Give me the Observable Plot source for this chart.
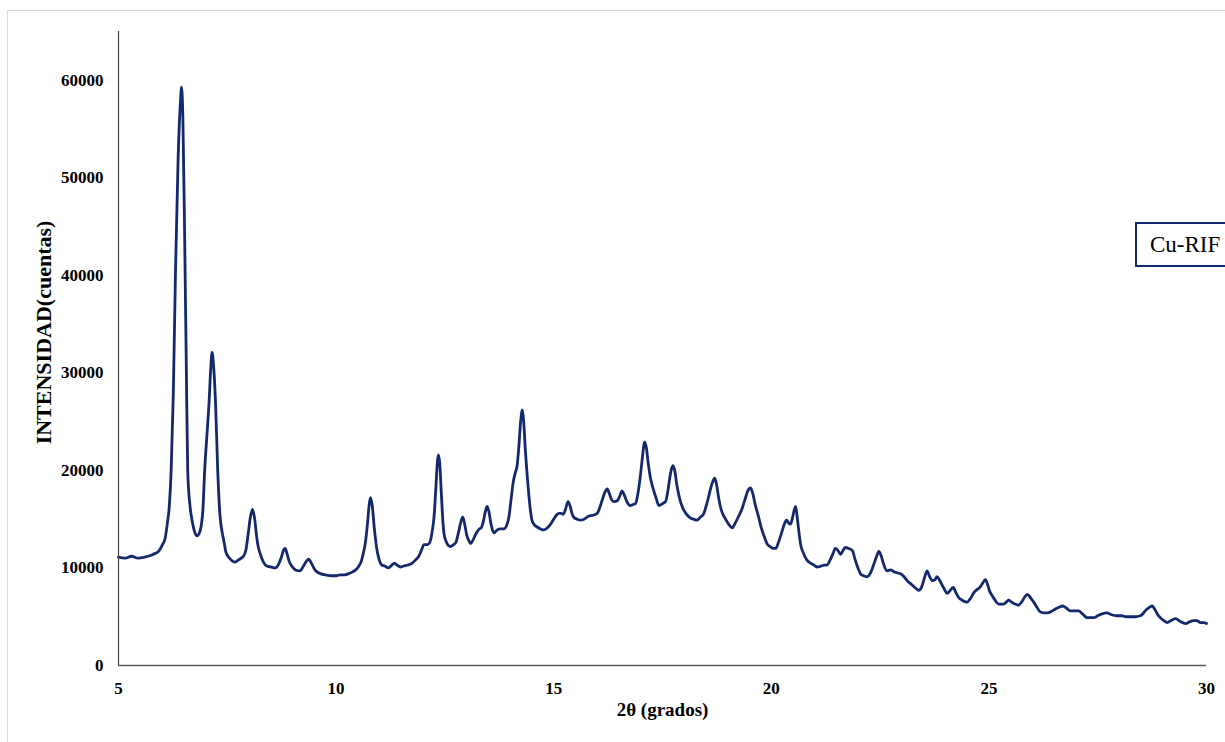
<!DOCTYPE html>
<html>
<head>
<meta charset="utf-8">
<script src="https://cdn.jsdelivr.net/npm/d3@7"></script>
<script src="https://cdn.jsdelivr.net/npm/@observablehq/plot@0.6"></script>
<style>
  html, body { margin: 0; padding: 0; background: #fff; overflow: hidden; }
  #wrap { position: relative; width: 1225px; height: 742px; overflow: hidden; }
  #frame { position: absolute; left: 7px; top: 10px; width: 1240px; height: 760px; border: 1px solid #d9d9d9; box-sizing: border-box; }
  #chart { position: absolute; left: 0; top: 0; }
  #legend { position: absolute; left: 1135px; top: 222px; width: 110px; height: 45px; border: 2px solid #12296b; box-sizing: border-box; background: #fff;
            font-family: "Liberation Serif", "Times New Roman", serif; font-size: 23px; color: #000; line-height: 41px; padding-left: 13px; }
</style>
</head>
<body>
<div id="wrap">
  <div id="frame"></div>
  <div id="chart"></div>
  <div id="legend">Cu-RIF</div>
</div>
<script>
// Diffraction pattern Cu-RIF: 2θ (degrees) and intensity (counts)
const twoTheta = [
  5.00,5.15,5.30,5.45,5.60,5.75,5.85,5.92,6.00,6.07,6.12,6.17,6.21,6.26,6.31,6.37,6.42,6.45,6.48,6.52,
  6.56,6.59,6.64,6.69,6.75,6.80,6.85,6.90,6.94,6.98,7.03,7.08,7.12,7.15,7.18,7.23,7.28,7.33,7.38,7.42,
  7.47,7.55,7.62,7.68,7.75,7.82,7.87,7.93,7.98,8.03,8.08,8.13,8.18,8.22,8.26,8.33,8.41,8.50,8.60,8.68,
  8.75,8.80,8.83,8.87,8.92,8.98,9.07,9.17,9.25,9.32,9.37,9.43,9.50,9.56,9.65,9.75,9.90,10.00,10.10,10.20,
  10.28,10.38,10.45,10.51,10.58,10.63,10.67,10.72,10.76,10.79,10.83,10.88,10.93,10.98,11.05,11.12,11.20,11.28,11.34,11.40,
  11.48,11.55,11.65,11.75,11.82,11.90,11.96,12.02,12.10,12.15,12.21,12.25,12.29,12.33,12.35,12.38,12.42,12.45,12.48,12.53,
  12.58,12.63,12.70,12.75,12.81,12.86,12.91,12.95,13.00,13.05,13.09,13.15,13.20,13.24,13.29,13.33,13.38,13.43,13.47,13.51,
  13.56,13.60,13.64,13.70,13.78,13.84,13.89,13.93,13.97,14.02,14.07,14.12,14.16,14.20,14.24,14.28,14.31,14.35,14.40,14.45,
  14.50,14.56,14.62,14.70,14.77,14.85,14.93,15.00,15.06,15.12,15.17,15.22,15.27,15.33,15.38,15.42,15.46,15.54,15.62,15.70,
  15.80,15.90,16.00,16.06,16.11,16.17,16.23,16.28,16.33,16.38,16.46,16.52,16.57,16.62,16.68,16.76,16.82,16.88,16.93,16.98,
  17.03,17.09,17.13,17.17,17.22,17.28,17.35,17.42,17.50,17.57,17.62,17.67,17.71,17.74,17.78,17.83,17.90,17.96,18.02,18.07,
  18.15,18.22,18.29,18.37,18.45,18.50,18.56,18.62,18.67,18.70,18.74,18.79,18.83,18.87,18.95,19.02,19.10,19.17,19.25,19.33,
  19.40,19.46,19.52,19.57,19.63,19.71,19.77,19.84,19.90,19.97,20.05,20.10,20.17,20.25,20.30,20.35,20.40,20.44,20.49,20.53,
  20.56,20.60,20.64,20.67,20.73,20.82,20.90,20.98,21.05,21.15,21.22,21.28,21.35,21.42,21.47,21.53,21.59,21.65,21.70,21.78,
  21.86,21.93,22.00,22.05,22.12,22.20,22.28,22.35,22.42,22.47,22.52,22.58,22.66,22.74,22.82,22.90,22.97,23.05,23.12,23.20,
  23.30,23.39,23.45,23.52,23.58,23.63,23.70,23.76,23.81,23.86,23.92,23.98,24.04,24.11,24.18,24.24,24.30,24.35,24.42,24.50,
  24.58,24.66,24.73,24.79,24.85,24.92,24.97,25.02,25.07,25.14,25.22,25.28,25.34,25.40,25.45,25.52,25.60,25.68,25.75,25.82,
  25.88,25.93,25.98,26.03,26.10,26.18,26.26,26.34,26.42,26.53,26.62,26.70,26.78,26.87,26.95,27.06,27.15,27.26,27.34,27.41,
  27.50,27.60,27.71,27.82,27.94,28.05,28.15,28.25,28.36,28.48,28.54,28.59,28.67,28.75,28.82,28.88,28.94,29.02,29.10,29.18,
  29.29,29.40,29.52,29.62,29.70,29.78,29.86,29.94,30.00
];
const counts = [
  11100,11000,11200,11000,11100,11300,11500,11700,12300,13000,14500,16500,20000,28000,40500,52000,57500,59300,56000,44000,
  30000,20000,16500,14900,13700,13300,13500,14300,16000,20000,23500,26900,30500,32100,31000,26900,20000,15500,13700,12800,
  11600,11000,10700,10600,10800,11000,11200,11900,13500,15200,16000,15000,13000,12000,11400,10600,10200,10100,10000,10400,
  11200,11900,12000,11500,10700,10200,9800,9700,10200,10700,10900,10500,9900,9600,9400,9300,9200,9200,9300,9300,
  9400,9600,9800,10100,10700,11600,12500,14500,16500,17200,16400,14000,12100,11000,10300,10200,10000,10300,10500,10300,
  10100,10200,10300,10500,10800,11200,11800,12400,12400,12600,13800,15200,18000,21000,21600,20800,17500,15000,13500,12700,
  12300,12200,12400,12600,13600,14600,15200,14600,13400,12800,12500,12900,13400,13700,14000,14100,14700,15800,16300,15800,
  14500,13800,13600,13900,14000,14000,14100,14500,15200,17000,18800,19800,20500,22500,25000,26200,25000,22000,19000,16500,
  14900,14400,14200,14000,13900,14100,14500,15000,15400,15600,15600,15500,16000,16800,16300,15600,15200,15000,14900,15000,
  15300,15400,15600,16200,16900,17700,18100,17600,17000,16800,16900,17400,17900,17500,16800,16400,16500,16600,17500,19000,
  21000,22900,22300,20800,19300,18200,17200,16400,16600,16800,17800,19300,20200,20500,20000,18500,17000,16200,15700,15400,
  15100,15000,14900,15200,15600,16300,17300,18400,19000,19200,18600,17200,16300,15700,15000,14500,14100,14600,15300,16100,
  17100,17900,18200,17700,16500,15200,14100,13200,12500,12200,12000,12000,12700,13800,14500,14900,14600,14500,15200,16000,
  16300,15000,13500,12500,11600,10800,10500,10300,10100,10200,10300,10300,10800,11500,12000,11800,11400,11800,12100,12000,
  11800,10800,9900,9400,9200,9100,9500,10300,11200,11700,11300,10400,9700,9800,9600,9500,9400,9100,8700,8400,
  8000,7700,8000,9000,9700,9200,8700,8800,9100,8800,8300,7800,7400,7700,8000,7500,7000,6800,6600,6500,
  6900,7500,7800,8000,8400,8800,8300,7600,7200,6700,6300,6300,6300,6500,6700,6500,6300,6200,6500,7000,
  7300,7100,6800,6500,6000,5500,5400,5400,5500,5800,6000,6100,5900,5600,5600,5600,5300,4900,4900,4900,
  5100,5300,5400,5200,5100,5100,5000,5000,5000,5100,5300,5600,5900,6100,5700,5200,4900,4600,4400,4600,
  4800,4500,4300,4500,4600,4600,4400,4400,4300
];
const xTicks = [5, 10, 15, 20, 25, 30];
const yTicks = [0, 10000, 20000, 30000, 40000, 50000, 60000];
const xTitle = "2θ (grados)";
const yTitle = "INTENSIDAD(cuentas)";
const seriesName = "Cu-RIF";

const data = twoTheta.map((t, i) => ({t, c: counts[i]}));
document.getElementById("legend").textContent = seriesName;

const chart = Plot.plot({
  width: 1225,
  height: 742,
  marginLeft: 118,
  marginRight: 19,
  marginTop: 31,
  marginBottom: 77,
  style: {fontFamily: "'Liberation Serif', 'Times New Roman', serif", fontSize: "17px", fontWeight: "bold", color: "#000", background: "transparent"},
  x: {domain: [5, 30], ticks: xTicks, tickSize: 0, tickPadding: 16, label: null, tickFormat: d3.format("d")},
  y: {domain: [0, 65000], ticks: yTicks, tickSize: 0, tickPadding: 15, label: null, tickFormat: d3.format("d")},
  marks: [
    Plot.line(data, {x: "t", y: "c", stroke: "#13296c", strokeWidth: 2.8, curve: "monotone-x", strokeLinejoin: "round"}),
    Plot.ruleY([0], {stroke: "#595959", strokeWidth: 1.5}),
    Plot.ruleX([5], {stroke: "#404040", strokeWidth: 1.2}),
    Plot.text([xTitle], {frameAnchor: "bottom", dy: 50, fontSize: 19, fontWeight: "bold", fill: "#000", textAnchor: "middle"}),
    Plot.text([yTitle], {frameAnchor: "left", dx: -75, dy: -16, rotate: -90, fontSize: 22, fontWeight: "bold", fill: "#000", textAnchor: "middle"})
  ]
});
document.getElementById("chart").appendChild(chart);
</script>
</body>
</html>
